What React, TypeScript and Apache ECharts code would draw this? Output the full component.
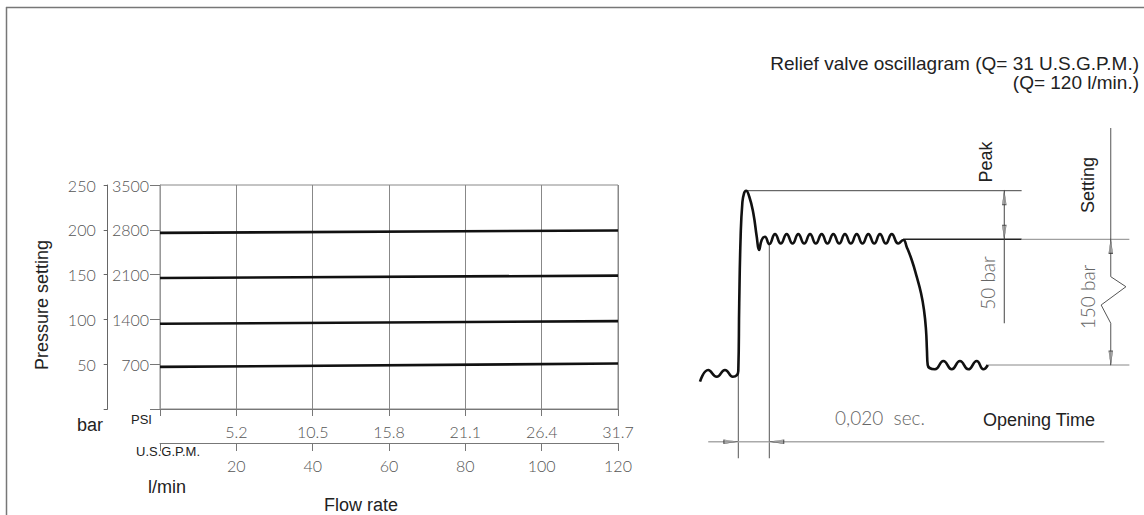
import React, { useEffect, useRef } from "react";
import * as echarts from "echarts";

// ---------- Left chart: pressure setting vs flow rate ----------
const flowLpm = [0, 120];
const lpmTicks = [0, 20, 40, 60, 80, 100, 120];
const gpmLabels = ["", "5.2", "10.5", "15.8", "21.1", "26.4", "31.7"];
const psiTicks = [700, 1400, 2100, 2800, 3500];
const barTicks = [50, 100, 150, 200, 250];
const setting2800 = [2752, 2789];
const setting2100 = [2048, 2084];
const setting1400 = [1332, 1373];
const setting700 = [658, 710];

// ---------- Right chart: relief valve oscillagram (time in ms, pressure in bar) ----------
const oscTimeMs = [
  -24.7, -19.4, -13.9, -8.6, -3.6, 0,
  0.6, 1.5, 2.6, 3.7, 5.0, 7.1, 9.7, 11.9, 13.4, 15.1, 17.2, 20.0,
  23.7, 27.4, 31.2, 35.0, 38.7, 42.5, 46.3, 50.0, 53.8, 57.5, 61.3, 65.1, 68.8, 72.6,
  76.4, 80.1, 83.9, 87.7, 91.4, 95.2, 99.0, 103.2, 106.5,
  108.6, 111.9, 115.1, 117.9, 119.8, 121.1, 121.7, 122.2,
  126.9, 132.3, 137.7, 143.0, 148.4, 153.8, 158.1, 161.0,
];
const oscPressureBar = [
  -19.9, -6.0, -14.0, -6.0, -14.0, -7.2,
  73.6, 153.1, 193.0, 204.9, 208.0, 200.8, 181.0, 153.1, 137.2, 149.2, 153.1, 144.4,
  156.2, 145.0, 156.2, 145.0, 156.2, 145.0, 156.2, 145.0, 156.2, 145.0, 156.2, 145.0, 156.2, 145.0,
  156.2, 145.0, 156.2, 145.0, 156.2, 145.0, 156.2, 145.0, 149.2,
  141.2, 125.3, 105.4, 85.6, 65.6, 41.8, 17.9, 0,
  -5.1, 4.8, -5.1, 4.8, -5.1, 4.8, -5.1, 0,
];

const peakBar = 208;
const settingBar = 150;
const reseatBar = 0;
const openStartMs = 0;
const openEndMs = 20;

// dimension / guide segments [time, bar]
const peakGuide = [[5, peakBar], [182.8, peakBar]];
const settingGuideDark = [[106.5, settingBar], [182.8, settingBar]];
const settingGuideLight = [[182.8, settingBar], [252.3, settingBar]];
const reseatGuide = [[161, reseatBar], [252.3, reseatBar]];
const openStartGuide = [[openStartMs, -7.2], [openStartMs, -111.3]];
const openEndGuide = [[openEndMs, 144.4], [openEndMs, -111.3]];
const openTimeLine = [[-19.4, -91.5], [236.1, -91.5]];
const peakDim = [[171.6, peakBar], [171.6, 49.8]];
const settingDim = [[240.3, 282.8], [240.3, 105.4], [250.1, 93.4], [234.1, 71.6], [240.3, 49.8], [240.3, reseatBar]];

const arrowT = [171.6, 171.6, 240.3, 240.3, -4.8, 24.8];
const arrowP = [199.6, 158.4, 141.6, 8.4, -91.5, -91.5];
const arrowRot = [0, 180, 0, 180, -90, 90];

const TICK_FONT = "Lato";
const MAIN_FONT = "Liberation Sans";

export default function App() {
  const ref = useRef<HTMLDivElement>(null);

  useEffect(() => {
    if (!ref.current) return;
    const chart = echarts.init(ref.current, undefined, { renderer: "svg" });

    const tickLabel = {
      fontFamily: TICK_FONT,
      fontWeight: 300 as any,
      fontSize: 16,
      color: "#555",
    };

    const guide = (data: number[][], color: string, width: number, name: string) => ({
      name,
      type: "line",
      xAxisIndex: 2,
      yAxisIndex: 2,
      data,
      symbol: "none",
      clip: false,
      silent: true,
      lineStyle: { color, width },
      z: 1,
    });

    const settingSeries = (data: number[], name: string) => ({
      name,
      type: "line",
      xAxisIndex: 0,
      yAxisIndex: 0,
      data: flowLpm.map((f, i) => [f, data[i]]),
      symbol: "none",
      lineStyle: { color: "#111", width: 2.6 },
      z: 5,
    });

    const txt = (
      text: string,
      x: number,
      y: number,
      opts: { size?: number; color?: string; align?: string; rot?: number; font?: string; weight?: any } = {}
    ) => ({
      type: "text",
      x,
      y,
      rotation: opts.rot || 0,
      silent: true,
      style: {
        text,
        fontSize: opts.size || 18,
        fontFamily: opts.font || MAIN_FONT,
        fontWeight: opts.weight || "normal",
        fill: opts.color || "#222",
        align: opts.align || "left",
        verticalAlign: "middle",
      },
    });

    chart.setOption({
      animation: false,
      backgroundColor: "#fff",
      grid: [
        { left: 160, top: 185, width: 458, height: 224, show: true, borderColor: "#888", borderWidth: 1 },
        { left: 691.8, top: 113.6, width: 449.5, height: 377.1 },
      ],
      xAxis: [
        {
          type: "value",
          gridIndex: 0,
          min: 0,
          max: 120,
          interval: 20,
          position: "bottom",
          axisLine: { show: true, onZero: false, lineStyle: { color: "#777", width: 1 } },
          axisTick: { show: true, length: 7, lineStyle: { color: "#777" } },
          splitLine: { show: true, lineStyle: { color: "#888", width: 1 } },
          axisLabel: {
            ...tickLabel,
            margin: 14,
            formatter: (v: number) => gpmLabels[lpmTicks.indexOf(v)] ?? "",
          },
        },
        {
          type: "value",
          gridIndex: 0,
          min: 0,
          max: 120,
          interval: 20,
          position: "bottom",
          offset: 34,
          axisLine: { show: true, onZero: false, lineStyle: { color: "#777", width: 1 } },
          axisTick: { show: true, length: 8, lineStyle: { color: "#777" } },
          splitLine: { show: false },
          axisLabel: {
            ...tickLabel,
            margin: 14,
            formatter: (v: number) => (v === 0 ? "" : String(v)),
          },
        },
        { type: "value", gridIndex: 1, min: -30, max: 260, show: false },
      ],
      yAxis: [
        {
          type: "value",
          gridIndex: 0,
          min: 0,
          max: 3500,
          interval: 700,
          position: "left",
          axisLine: { show: true, onZero: false, lineStyle: { color: "#999", width: 1 } },
          axisTick: { show: true, length: 10, lineStyle: { color: "#777" } },
          splitLine: { show: false },
          axisLabel: {
            ...tickLabel,
            margin: 11,
            formatter: (v: number) => (psiTicks.includes(v) ? String(v) : ""),
          },
        },
        {
          type: "value",
          gridIndex: 0,
          min: 0,
          max: 250,
          interval: 50,
          position: "left",
          offset: 52.3,
          axisLine: { show: true, onZero: false, lineStyle: { color: "#666", width: 1 } },
          axisTick: { show: true, length: 4, lineStyle: { color: "#666" } },
          splitLine: { show: false },
          axisLabel: {
            ...tickLabel,
            margin: 12,
            formatter: (v: number) => (barTicks.includes(v) ? String(v) : ""),
          },
        },
        { type: "value", gridIndex: 1, min: -150, max: 300, show: false },
      ],
      series: [
        settingSeries(setting2800, "2800 psi"),
        settingSeries(setting2100, "2100 psi"),
        settingSeries(setting1400, "1400 psi"),
        settingSeries(setting700, "700 psi"),
        {
          name: "oscillagram",
          type: "line",
          xAxisIndex: 2,
          yAxisIndex: 2,
          data: oscTimeMs.map((t, i) => [t, oscPressureBar[i]]),
          symbol: "none",
          smooth: 0.5,
          clip: false,
          lineStyle: { color: "#111", width: 2.6 },
          z: 6,
        },
        guide(peakGuide, "#444", 1, "peak"),
        guide(settingGuideDark, "#222", 1.4, "setting"),
        guide(settingGuideLight, "#888", 1, "setting2"),
        guide(reseatGuide, "#888", 1, "reseat"),
        guide(openStartGuide, "#555", 1, "open start"),
        guide(openEndGuide, "#555", 1, "open end"),
        guide(openTimeLine, "#aaa", 1.5, "opening time"),
        guide(peakDim, "#444", 1, "peak dim"),
        guide(settingDim, "#555", 1, "setting dim"),
        {
          name: "arrows",
          type: "scatter",
          xAxisIndex: 2,
          yAxisIndex: 2,
          silent: true,
          clip: false,
          symbol: "path://M5,0L10,40L0,40Z",
          symbolSize: [4, 14],
          data: arrowT.map((t, i) => ({ value: [t, arrowP[i]], symbolRotate: arrowRot[i] })),
          itemStyle: { color: "#999", borderColor: "#333", borderWidth: 0.6 },
          z: 7,
        },
      ],
      graphic: [
        { type: "line", silent: true, shape: { x1: 6, y1: 7.5, x2: 1144, y2: 7.5 }, style: { stroke: "#777", lineWidth: 1.5 } },
        { type: "line", silent: true, shape: { x1: 6.5, y1: 7, x2: 6.5, y2: 515 }, style: { stroke: "#777", lineWidth: 1.5 } },
        txt("Relief valve oscillagram (Q= 31 U.S.G.P.M.)", 1139, 63, { align: "right", size: 19 }),
        txt("(Q= 120 l/min.)", 1139, 82, { align: "right", size: 19 }),
        txt("Pressure setting", 42, 305, { align: "center", rot: Math.PI / 2 }),
        txt("bar", 77, 425),
        txt("PSI", 131, 419, { size: 13 }),
        txt("U.S.G.P.M.", 136, 451.5, { size: 13 }),
        txt("l/min", 148, 487),
        txt("Flow rate", 361, 505, { align: "center" }),
        txt("Peak", 985.5, 162, { align: "center", rot: Math.PI / 2 }),
        txt("Setting", 1087.5, 185, { align: "center", rot: Math.PI / 2 }),
        txt("50 bar", 987, 283, { align: "center", rot: Math.PI / 2, size: 19, color: "#666", font: TICK_FONT, weight: 300 }),
        txt("150 bar", 1087, 297, { align: "center", rot: Math.PI / 2, size: 19, color: "#666", font: TICK_FONT, weight: 300 }),
        txt("0,020  sec.", 835, 417, { size: 19, color: "#666", font: TICK_FONT, weight: 300 }),
        txt("Opening Time", 983, 420),
      ],
    });

    return () => chart.dispose();
  }, []);

  return (
    <div
      ref={ref}
      style={{ position: "fixed", left: 0, top: 0, width: 1144, height: 515, background: "#fff" }}
    />
  );
}
